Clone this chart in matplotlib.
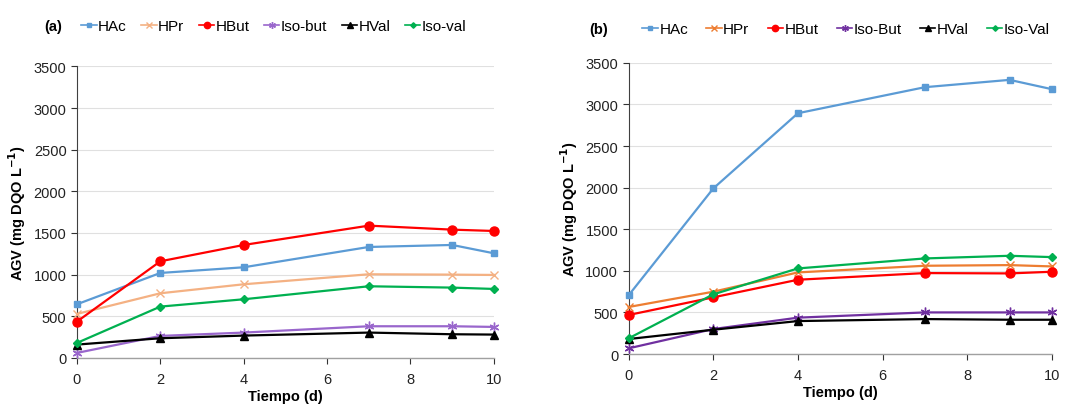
import matplotlib
matplotlib.use("Agg")
import matplotlib.pyplot as plt
from matplotlib.lines import Line2D

plt.rcParams['font.family'] = ['Liberation Sans', 'DejaVu Sans']

dias = [0, 2, 4, 7, 9, 10]

# Panel (a)
a_labels = ["HAc", "HPr", "HBut", "Iso-but", "HVal", "Iso-val"]
a_HAc = [644, 1020, 1088, 1332, 1356, 1256]
a_HPr = [528, 776, 884, 1004, 1000, 996]
a_HBut = [436, 1160, 1356, 1588, 1540, 1524]
a_Isobut = [60, 264, 304, 380, 380, 372]
a_HVal = [160, 236, 268, 304, 284, 280]
a_Isoval = [180, 616, 704, 860, 844, 828]

# Panel (b)
b_labels = ["HAc", "HPr", "HBut", "Iso-But", "HVal", "Iso-Val"]
b_HAc = [705, 1990, 2895, 3208, 3296, 3184]
b_HPr = [565, 749, 981, 1061, 1069, 1053]
b_HBut = [469, 681, 893, 973, 969, 989]
b_IsoBut = [68, 300, 437, 500, 500, 500]
b_HVal = [180, 292, 396, 420, 412, 412]
b_IsoVal = [188, 717, 1029, 1149, 1181, 1165]

yticks = [0, 500, 1000, 1500, 2000, 2500, 3000, 3500]
xticks = [0, 2, 4, 6, 8, 10]

fig = plt.figure(figsize=(10.69, 4.06), dpi=100)
axA = fig.add_axes([0.072, 0.116, 0.390, 0.718])
axB = fig.add_axes([0.588, 0.1256, 0.396, 0.717])

styleA = [
    dict(color="#5B9BD5", marker="s", ms=5),
    dict(color="#F4B183", marker="x", ms=6, mew=1.0),
    dict(color="#FF0000", marker="o", ms=6.5),
    dict(color="#9966CC", marker=(6, 2, 0), ms=7, mew=1.0),
    dict(color="#000000", marker="^", ms=6),
    dict(color="#00B050", marker="D", ms=4),
]
styleB = [
    dict(color="#5B9BD5", marker="s", ms=5),
    dict(color="#ED7D31", marker="x", ms=6, mew=1.0),
    dict(color="#FF0000", marker="o", ms=6.5),
    dict(color="#7030A0", marker=(6, 2, 0), ms=7, mew=1.0),
    dict(color="#000000", marker="^", ms=6),
    dict(color="#00B050", marker="D", ms=4),
]

seriesA = [a_HAc, a_HPr, a_HBut, a_Isobut, a_HVal, a_Isoval]
seriesB = [b_HAc, b_HPr, b_HBut, b_IsoBut, b_HVal, b_IsoVal]

def draw(ax, series, labels, styles, tag, tagx, legx, legy, colsp):
    handles = []
    for vals, lab, st in zip(series, labels, styles):
        ln, = ax.plot(dias, vals, lw=1.6, label=lab, clip_on=False, zorder=3, **st)
        handles.append(ln)
    ax.set_xlim(0, 10)
    ax.set_ylim(0, 3500)
    ax.set_xticks(xticks)
    ax.set_yticks(yticks)
    ax.tick_params(axis='both', labelsize=10.5, colors="#333333", length=4, width=0.8,
                   direction='out')
    ax.tick_params(axis='y', labelcolor="#222222")
    ax.tick_params(axis='x', labelcolor="#222222", pad=6)
    ax.grid(axis='y', color="#E0E0E0", lw=0.8)
    ax.set_axisbelow(True)
    for s in ["top", "right"]:
        ax.spines[s].set_visible(False)
    ax.spines["left"].set_color("#404040")
    ax.spines["bottom"].set_color("#A0A0A0")
    ax.spines["bottom"].set_linewidth(1.0)
    ax.set_xlabel("Tiempo (d)", fontsize=10.5, fontweight="bold", labelpad=2)
    ax.set_ylabel("AGV (mg DQO L$^{\\mathbf{-1}}$)", fontsize=10.5, fontweight="bold")
    fig.text(tagx, legy, tag, fontsize=10.5, fontweight="bold", ha="left", va="center")
    leg = fig.legend(handles=handles, labels=labels, loc="center left",
                     bbox_to_anchor=(legx, legy), ncol=6, frameon=False,
                     fontsize=11, handlelength=1.0, handletextpad=0.1,
                     columnspacing=colsp, borderaxespad=0, borderpad=0)
    for h in leg.legend_handles:
        h.set_markersize(h.get_markersize() * 0.7)
        h.set_linewidth(1.2)
    return leg

draw(axA, seriesA, a_labels, styleA, "(a)", 0.041, 0.076, 0.933, 0.95)
draw(axB, seriesB, b_labels, styleB, "(b)", 0.551, 0.601, 0.926, 1.2)

fig.savefig("out.png", dpi=100)
